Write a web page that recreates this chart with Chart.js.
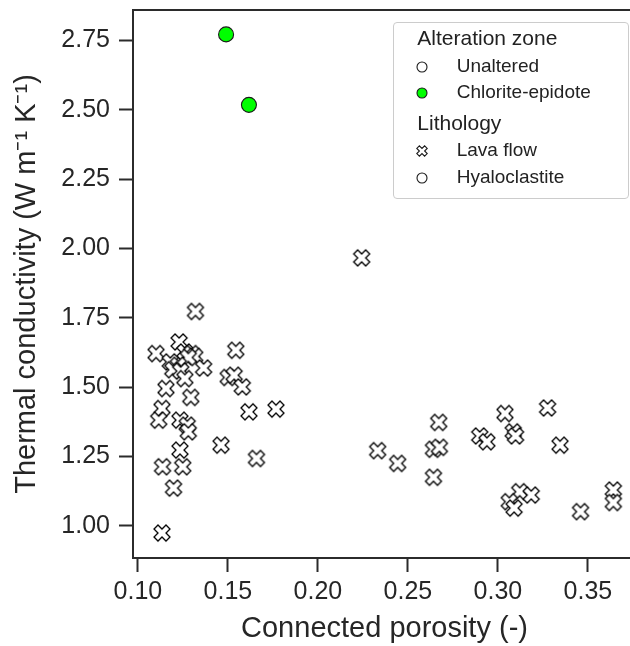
<!DOCTYPE html>
<html>
<head>
<meta charset="utf-8">
<script src="https://cdn.jsdelivr.net/npm/chart.js@4/dist/chart.umd.min.js"></script>
<style>
  html, body { margin: 0; padding: 0; background: #fff; overflow: hidden; width: 630px; height: 646px; }
  #wrap { position: relative; width: 646px; height: 646px; }
  #c { position: absolute; left: 0; top: 0; }
  #legend { position: absolute; left: 393px; top: 22px; width: 234px; height: 175px;
            border: 1px solid #cccccc; border-radius: 4px; background: rgba(255,255,255,0.85);
            font-family: 'Liberation Sans', Arial, sans-serif; color: #222; }
  .row { position: absolute; height: 30px; line-height: 30px; white-space: nowrap; }
  .head { font-size: 21px; }
  .item { font-size: 19px; }
  .mk { position: absolute; }
</style>
</head>
<body>
<div id="wrap">
  <canvas id="c" width="646" height="646"></canvas>
  <div id="legend"></div>
</div>
<script>
// ---- data ----
const xTicks = [0.10, 0.15, 0.20, 0.25, 0.30, 0.35];
const yTicks = [1.00, 1.25, 1.50, 1.75, 2.00, 2.25, 2.50, 2.75];

// Lava flow, unaltered (white X markers)
const lavaPorosity = [
  0.1320, 0.1229, 0.1101, 0.1544, 0.1261, 0.1298, 0.1316, 0.1280, 0.1180, 0.1225,
  0.1194, 0.1238, 0.1365, 0.1261, 0.1502, 0.1535, 0.1580, 0.1156, 0.1294, 0.1134,
  0.1617, 0.1767, 0.1116, 0.1234, 0.1274, 0.1280, 0.1462, 0.1234, 0.1137, 0.1249,
  0.1659, 0.1198, 0.1134, 0.2243,
  0.2332, 0.2443, 0.2671, 0.2642, 0.2675, 0.2642, 0.2899, 0.2939, 0.3039, 0.3085,
  0.3098, 0.3276, 0.3345, 0.3121, 0.3185, 0.3063, 0.3090, 0.3459, 0.3641, 0.3641
];
const lavaConductivity = [
  1.773, 1.663, 1.621, 1.633, 1.627, 1.621, 1.611, 1.607, 1.591, 1.579,
  1.563, 1.558, 1.569, 1.531, 1.535, 1.543, 1.501, 1.495, 1.463, 1.423,
  1.411, 1.421, 1.381, 1.381, 1.363, 1.339, 1.291, 1.273, 1.213, 1.213,
  1.243, 1.136, 0.974, 1.966,
  1.271, 1.225, 1.373, 1.276, 1.283, 1.175, 1.324, 1.303, 1.405, 1.339,
  1.324, 1.425, 1.291, 1.123, 1.111, 1.087, 1.064, 1.051, 1.129, 1.084
];

// Hyaloclastite, chlorite-epidote (green circles)
const hyaloPorosity = [0.1490, 0.1617];
const hyaloConductivity = [2.772, 2.518];

const toPoints = (xs, ys) => xs.map((x, i) => ({ x: x, y: ys[i] }));

// ---- marker: filled "X" (white face, dark edge) ----
function makeXMarker(size, lw) {
  const pad = 2;
  const cv = document.createElement('canvas');
  cv.width = size + pad * 2; cv.height = size + pad * 2;
  const g = cv.getContext('2d');
  const s = size / 4, c = (size + pad * 2) / 2;
  const verts = [[-1,-2],[0,-1],[1,-2],[2,-1],[1,0],[2,1],[1,2],[0,1],[-1,2],[-2,1],[-1,0],[-2,-1]];
  g.beginPath();
  verts.forEach((v, i) => { const px = c + v[0] * s, py = c + v[1] * s; i ? g.lineTo(px, py) : g.moveTo(px, py); });
  g.closePath();
  g.fillStyle = '#ffffff'; g.fill();
  g.lineWidth = lw; g.strokeStyle = '#000000'; g.stroke();
  return cv;
}
const xMarker = makeXMarker(16, 1.3);

const FONT = "'Liberation Sans', Arial, sans-serif";
const TXT = '#262626';
const AX = '#2b2b2b';

const topSpine = {
  id: 'topSpine',
  afterDraw(chart) {
    const { ctx, chartArea: a } = chart;
    ctx.save();
    ctx.strokeStyle = AX; ctx.lineWidth = 2;
    ctx.beginPath();
    ctx.moveTo(a.left - 1, a.top); ctx.lineTo(a.right + 1, a.top);
    ctx.moveTo(a.right, a.top); ctx.lineTo(a.right, a.bottom);
    ctx.stroke();
    ctx.restore();
  }
};

new Chart(document.getElementById('c'), {
  type: 'scatter',
  data: {
    datasets: [
      {
        label: 'Lava flow (Unaltered)',
        data: toPoints(lavaPorosity, lavaConductivity),
        pointStyle: xMarker,
        pointRadius: 9,
        pointHoverRadius: 9
      },
      {
        label: 'Hyaloclastite (Chlorite-epidote)',
        data: toPoints(hyaloPorosity, hyaloConductivity),
        pointStyle: 'circle',
        pointRadius: 7.5,
        pointHoverRadius: 7.5,
        backgroundColor: '#00ff00',
        borderColor: '#1a1a1a',
        borderWidth: 1.1
      }
    ]
  },
  options: {
    responsive: false,
    animation: false,
    devicePixelRatio: 1,
    layout: { padding: { top: 9, right: 0, left: 0, bottom: 0 } },
    plugins: { legend: { display: false }, tooltip: { enabled: false } },
    scales: {
      x: {
        type: 'linear',
        min: 0.0973, max: 0.3767,
        afterBuildTicks: s => { s.ticks = xTicks.map(v => ({ value: v })); },
        afterFit: s => { s.height = 88; s.paddingLeft = 0; s.paddingRight = 0; },
        ticks: { callback: v => Number(v).toFixed(2), font: { family: FONT, size: 25 }, color: TXT, padding: 5, maxRotation: 0 },
        grid: { drawOnChartArea: false, drawTicks: true, tickLength: 14, tickWidth: 2, tickColor: AX },
        border: { display: true, color: AX, width: 2 },
        title: { display: true, text: 'Connected porosity (-)', font: { family: FONT, size: 29, lineHeight: 1.2 }, color: TXT, padding: { top: 0, bottom: 0 } }
      },
      y: {
        type: 'linear',
        min: 0.884, max: 2.86,
        afterBuildTicks: s => { s.ticks = yTicks.map(v => ({ value: v })); },
        afterFit: s => { s.width = 133; s.paddingTop = 0; s.paddingBottom = 0; },
        ticks: { callback: v => Number(v).toFixed(2), font: { family: FONT, size: 25 }, color: TXT, padding: 9 },
        grid: { drawOnChartArea: false, drawTicks: true, tickLength: 14, tickWidth: 2, tickColor: AX },
        border: { display: true, color: AX, width: 2 },
        title: { display: true, text: 'Thermal conductivity (W m\u207B\u00B9 K\u207B\u00B9)', font: { family: FONT, size: 29, lineHeight: 1.2 }, color: TXT, padding: { top: 10, bottom: 0 } }
      }
    }
  },
  plugins: [topSpine]
});

// ---- legend (HTML, real text) ----
const legendRows = [
  { kind: 'head', text: 'Alteration zone', cy: 37.7 },
  { kind: 'item', text: 'Unaltered', cy: 66, marker: 'circle', fill: '#ffffff' },
  { kind: 'item', text: 'Chlorite-epidote', cy: 92.3, marker: 'circle', fill: '#00ff00' },
  { kind: 'head', text: 'Lithology', cy: 123.3 },
  { kind: 'item', text: 'Lava flow', cy: 150, marker: 'x', fill: '#ffffff' },
  { kind: 'item', text: 'Hyaloclastite', cy: 176.7, marker: 'circle', fill: '#ffffff' }
];
const lg = document.getElementById('legend');
const boxL = 394, boxT = 23;
legendRows.forEach(r => {
  const d = document.createElement('div');
  d.className = 'row ' + r.kind;
  d.textContent = r.text;
  d.style.left = ((r.kind === 'head' ? 417.3 : 456.7) - boxL) + 'px';
  d.style.top = (r.cy - 15 - boxT) + 'px';
  lg.appendChild(d);
  if (r.marker) {
    const ns = 'http://www.w3.org/2000/svg';
    const svg = document.createElementNS(ns, 'svg');
    svg.setAttribute('width', 16); svg.setAttribute('height', 16);
    svg.setAttribute('class', 'mk');
    svg.style.left = (421.7 - 8 - boxL) + 'px';
    svg.style.top = (r.cy + 1 - 8 - boxT) + 'px';
    let el;
    if (r.marker === 'circle') {
      el = document.createElementNS(ns, 'circle');
      el.setAttribute('cx', 8); el.setAttribute('cy', 8); el.setAttribute('r', 5);
    } else {
      el = document.createElementNS(ns, 'polygon');
      const verts = [[-1,-2],[0,-1],[1,-2],[2,-1],[1,0],[2,1],[1,2],[0,1],[-1,2],[-2,1],[-1,0],[-2,-1]];
      el.setAttribute('points', verts.map(v => (8 + v[0] * 2.6) + ',' + (8 + v[1] * 2.6)).join(' '));
    }
    el.setAttribute('fill', r.fill);
    el.setAttribute('stroke', '#1a1a1a');
    el.setAttribute('stroke-width', '1.1');
    svg.appendChild(el);
    lg.appendChild(svg);
  }
});
</script>
</body>
</html>
